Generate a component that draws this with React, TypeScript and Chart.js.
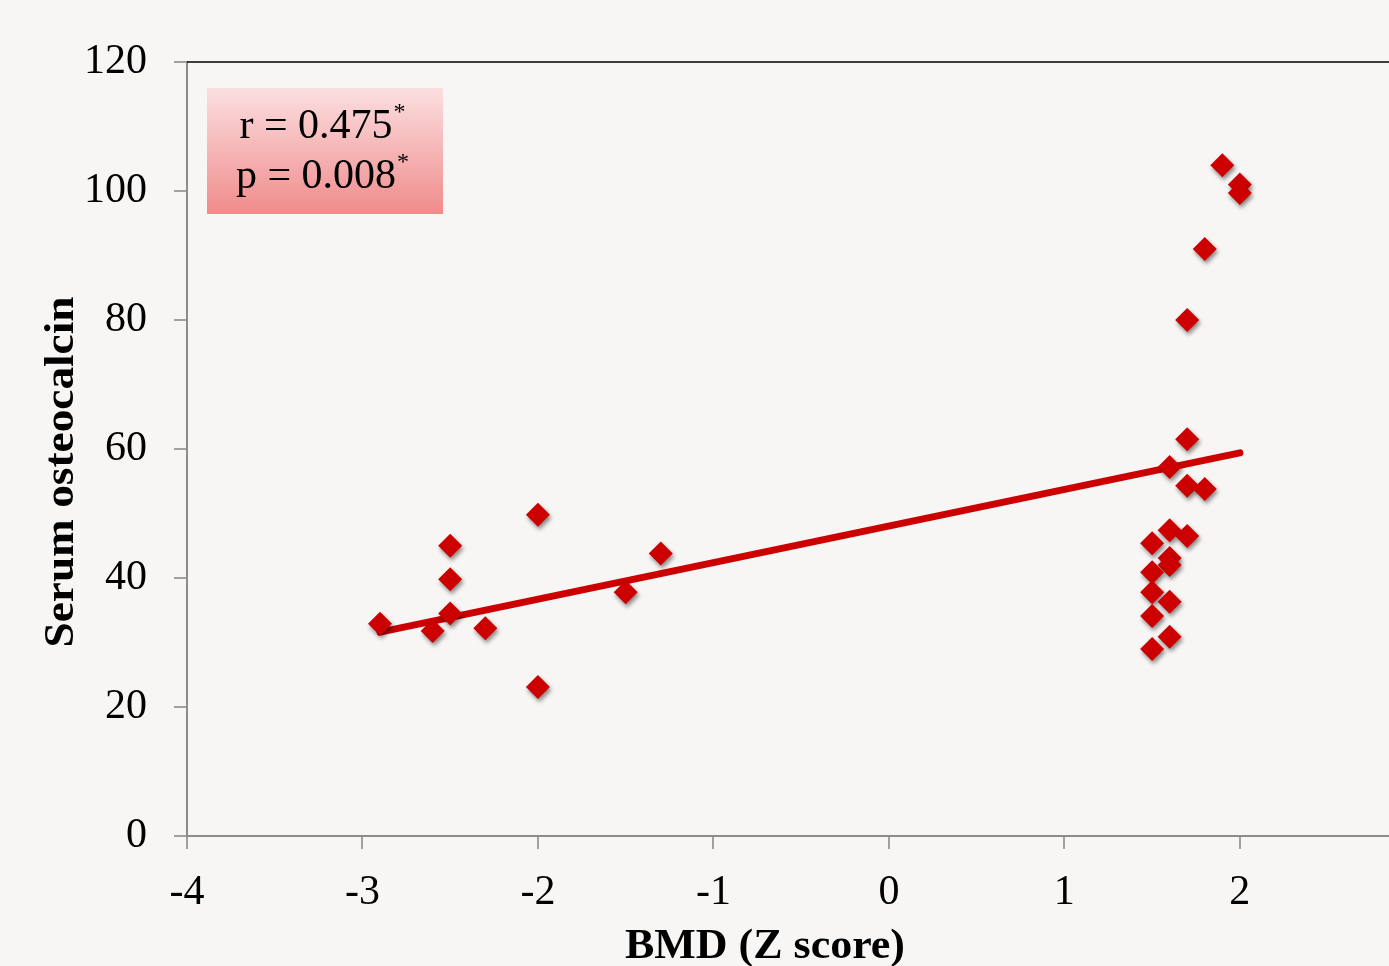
import React, { useEffect, useRef } from "react";
import { Chart, registerables } from "chart.js";

Chart.register(...registerables);

const bmdZ = [-2.9, -2.6, -2.5, -2.5, -2.5, -2.3, -2.0, -2.0, -1.5, -1.3, 1.9, 2.0, 2.0, 1.8, 1.7, 1.7, 1.6, 1.7, 1.8, 1.6, 1.7, 1.5, 1.6, 1.6, 1.5, 1.5, 1.6, 1.5, 1.6, 1.5];
const osteocalcin = [32.9, 31.8, 45, 39.8, 34.5, 32.2, 49.8, 23.1, 37.8, 43.8, 104, 101, 99.7, 91, 80, 61.5, 57.2, 54.3, 53.8, 47.4, 46.5, 45.4, 43.1, 42, 40.9, 37.8, 36.3, 34.1, 30.9, 29];
const trendX = [-2.9, 2.0];
const trendY = [31.6, 59.4];
const statLines = ["r = 0.475", "p = 0.008"];
const xTitle = "BMD (Z score)";
const yTitle = "Serum osteocalcin";

const FONT = "'Liberation Serif', 'Times New Roman', serif";
const RED = "#cc0000";
const BG = "#f7f6f5";

const bgPlugin = {
  id: "bgPlugin",
  beforeDraw(chart: any) {
    const { ctx, width, height } = chart;
    ctx.save();
    ctx.fillStyle = BG;
    ctx.fillRect(0, 0, width, height);
    ctx.restore();
  },
};

const shadowPlugin = {
  id: "shadowPlugin",
  beforeDatasetDraw(chart: any, args: any) {
    if (args.index === 0) {
      const ctx = chart.ctx;
      ctx.save();
      ctx.shadowColor = "rgba(0,0,0,0.45)";
      ctx.shadowBlur = 4;
      ctx.shadowOffsetX = 1.5;
      ctx.shadowOffsetY = 3;
    }
  },
  afterDatasetDraw(chart: any, args: any) {
    if (args.index === 0) chart.ctx.restore();
  },
};

function drawScaledText(ctx: any, text: string, cx: number, baseY: number, targetW: number, font: string, angle: number) {
  ctx.save();
  ctx.font = font;
  const w = ctx.measureText(text).width;
  ctx.translate(cx, baseY);
  ctx.rotate(angle);
  ctx.scale(targetW / w, 1);
  ctx.textAlign = "center";
  ctx.textBaseline = "alphabetic";
  ctx.fillStyle = "#000000";
  ctx.fillText(text, 0, 0);
  ctx.restore();
}

const framePlugin = {
  id: "framePlugin",
  afterDraw(chart: any) {
    const { ctx, chartArea } = chart;
    ctx.save();
    // top border
    ctx.strokeStyle = "#000000";
    ctx.lineWidth = 1.5;
    ctx.beginPath();
    ctx.moveTo(chartArea.left, chartArea.top);
    ctx.lineTo(chartArea.right, chartArea.top);
    ctx.stroke();

    // stats box
    const bx = chartArea.left + 20;
    const by = chartArea.top + 26;
    const bw = 236;
    const bh = 126;
    const g = ctx.createLinearGradient(0, by, 0, by + bh);
    g.addColorStop(0, "#fbdfe0");
    g.addColorStop(1, "#f08b8b");
    ctx.fillStyle = g;
    ctx.fillRect(bx, by, bw, bh);

    ctx.fillStyle = "#000000";
    ctx.textBaseline = "alphabetic";
    const baselines = [by + 50, by + 100];
    statLines.forEach((t, i) => {
      ctx.font = `42px ${FONT}`;
      const w = ctx.measureText(t).width;
      ctx.font = `24px ${FONT}`;
      const sw = ctx.measureText("*").width;
      const x0 = bx + (bw - w - sw) / 2 - 3;
      ctx.font = `42px ${FONT}`;
      ctx.textAlign = "left";
      ctx.fillText(t, x0, baselines[i]);
      ctx.font = `24px ${FONT}`;
      ctx.fillText("*", x0 + w + 1, baselines[i] - 19);
    });
    ctx.restore();

    // axis titles
    drawScaledText(ctx, xTitle, 765, 958, 280, `bold 42px ${FONT}`, 0);
    drawScaledText(ctx, yTitle, 73, 472, 351, `bold 42px ${FONT}`, -Math.PI / 2);
  },
};

export default function App() {
  const ref = useRef<HTMLCanvasElement | null>(null);

  useEffect(() => {
    document.body.style.margin = "0";
    document.body.style.background = BG;
    if (!ref.current) return;
    const chart = new Chart(ref.current, {
      type: "scatter",
      data: {
        datasets: [
          {
            label: "points",
            data: bmdZ.map((x, i) => ({ x, y: osteocalcin[i] })),
            pointStyle: "rectRot",
            pointRadius: 12,
            pointHoverRadius: 12,
            backgroundColor: RED,
            borderColor: RED,
            borderWidth: 0,
            order: 0,
          },
          {
            label: "trend",
            type: "line",
            data: trendX.map((x, i) => ({ x, y: trendY[i] })),
            borderColor: RED,
            borderWidth: 7,
            borderCapStyle: "round",
            pointRadius: 0,
            showLine: true,
            fill: false,
            order: 1,
          } as any,
        ],
      },
      options: {
        responsive: false,
        animation: false,
        layout: { autoPadding: false, padding: { top: 62, right: 0, left: 0, bottom: 0 } },
        plugins: {
          legend: { display: false },
          tooltip: { enabled: false },
        },
        scales: {
          x: {
            type: "linear",
            min: -4,
            max: 2.85,
            grid: {
              drawOnChartArea: false,
              drawTicks: true,
              tickLength: 13,
              tickColor: "#a0a0a0",
              lineWidth: 2,
            },
            border: { display: true, color: "#8c8c8c", width: 2 },
            ticks: {
              stepSize: 1,
              includeBounds: false,
              padding: 19,
              color: "#000000",
              font: { family: FONT, size: 42 },
              callback: (v: any) => String(v),
            },
            title: { display: false },
            afterFit: (s: any) => {
              s.height = 130;
              s.paddingLeft = 0;
              s.paddingRight = 0;
            },
          },
          y: {
            type: "linear",
            min: 0,
            max: 120,
            grid: {
              drawOnChartArea: false,
              drawTicks: true,
              tickLength: 13,
              tickColor: "#a0a0a0",
              lineWidth: 2,
            },
            border: { display: true, color: "#8c8c8c", width: 2 },
            ticks: {
              stepSize: 20,
              padding: 27,
              color: "#000000",
              font: { family: FONT, size: 42 },
            },
            title: { display: false },
            afterFit: (s: any) => {
              s.width = 187;
              s.paddingTop = 0;
              s.paddingBottom = 0;
            },
          },
        },
      },
      plugins: [bgPlugin, shadowPlugin, framePlugin],
    });
    return () => chart.destroy();
  }, []);

  return <canvas ref={ref} width={1389} height={966} style={{ display: "block" }} />;
}
